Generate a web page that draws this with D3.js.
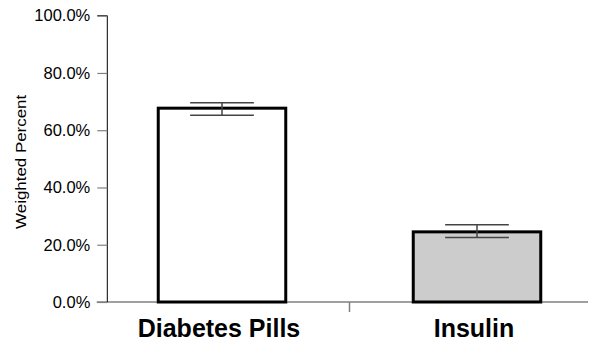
<!DOCTYPE html>
<html><head><meta charset="utf-8">
<script src="https://cdn.jsdelivr.net/npm/d3@7"></script>
<style>body{margin:0;background:#fff}svg{display:block}</style>
</head><body>
<svg id="c" width="589" height="345"></svg>
<script>
const categories = ["Diabetes Pills", "Insulin"];
const values = [67.7, 24.5];
const lower = [65.2, 22.5];
const upper = [69.6, 27.0];
const fills = ["#ffffff", "#cccccc"];
const yTicks = [0, 20, 40, 60, 80, 100];

const svg = d3.select("#c");
const x = d3.scaleBand().domain(categories).range([94.5, 604.5]).paddingInner(0.5).paddingOuter(0.25);
const y = d3.scaleLinear().domain([0, 100]).range([302, 15.7]);

// x axis baseline
svg.append("line").attr("x1", 96.7).attr("x2", 588).attr("y1", y(0)).attr("y2", y(0))
  .attr("stroke", "#808080").attr("stroke-width", 1.5);
// divider tick between categories
const mid = (x(categories[0]) + x.bandwidth() + x(categories[1])) / 2;
svg.append("line").attr("x1", mid).attr("x2", mid).attr("y1", y(0)).attr("y2", y(0) + 10)
  .attr("stroke", "#808080").attr("stroke-width", 1.5);

// y axis
const yAxis = d3.axisLeft(y).tickValues(yTicks).tickFormat(d => d.toFixed(1) + "%").tickSize(10).tickPadding(7);
const gy = svg.append("g").attr("transform", "translate(107.3,0)").call(yAxis);
gy.select(".domain").attr("stroke", "#000").attr("stroke-width", 1).attr("d", `M-10,${y(100)}H0V${y(0)}`);
gy.selectAll(".tick line").attr("stroke", "#808080").attr("stroke-width", 1.2);
gy.selectAll(".tick text").attr("font-family", "Liberation Sans, Arial, sans-serif").attr("font-size", 16.5).attr("fill", "#000");

// y title
svg.append("text").attr("transform", `translate(26,${(y(0)+y(100))/2 + 3}) rotate(-90) scale(1.21,1)`)
  .attr("text-anchor", "middle").attr("font-family", "Liberation Sans, Arial, sans-serif")
  .attr("font-size", 14).text("Weighted Percent");

// bars
svg.selectAll("rect.bar").data(categories).join("rect").attr("class", "bar")
  .attr("x", d => x(d)).attr("width", x.bandwidth())
  .attr("y", (d, i) => y(values[i])).attr("height", (d, i) => y(0) - y(values[i]))
  .attr("fill", (d, i) => fills[i]).attr("stroke", "#000").attr("stroke-width", 3);

// error bars
const eb = svg.selectAll("g.eb").data(categories).join("g").attr("class", "eb");
eb.append("line").attr("x1", d => x(d) + x.bandwidth()/2).attr("x2", d => x(d) + x.bandwidth()/2)
  .attr("y1", (d, i) => y(upper[i])).attr("y2", (d, i) => y(lower[i]));
eb.append("line").attr("x1", d => x(d) + x.bandwidth()/4).attr("x2", d => x(d) + 3*x.bandwidth()/4)
  .attr("y1", (d, i) => y(upper[i])).attr("y2", (d, i) => y(upper[i]));
eb.append("line").attr("x1", d => x(d) + x.bandwidth()/4).attr("x2", d => x(d) + 3*x.bandwidth()/4)
  .attr("y1", (d, i) => y(lower[i])).attr("y2", (d, i) => y(lower[i]));
eb.selectAll("line").attr("stroke", "#444").attr("stroke-width", 1.5);

// category labels
svg.selectAll("text.cat").data(categories).join("text").attr("class", "cat")
  .attr("x", d => x(d) + x.bandwidth()/2 - 3).attr("y", 337)
  .attr("text-anchor", "middle").attr("font-family", "Liberation Sans, Arial, sans-serif")
  .attr("font-weight", "bold").attr("font-size", 25).text(d => d);
</script>
</body></html>
